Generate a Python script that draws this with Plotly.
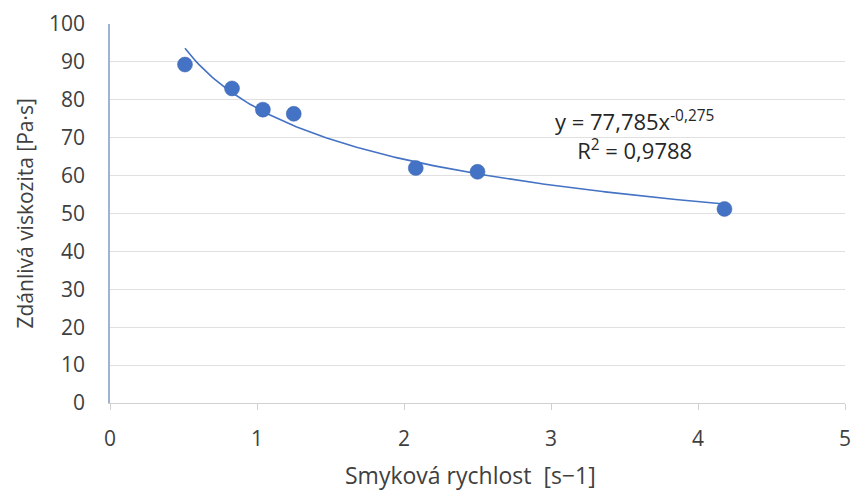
import numpy as np
import plotly.graph_objects as go

shear_rate = [0.51, 0.83, 1.04, 1.25, 2.08, 2.50, 4.18]
viscosity = [89.3, 83.0, 77.4, 76.3, 62.0, 61.0, 51.2]
fit_a = 77.785
fit_b = -0.275
x_ticks = [0, 1, 2, 3, 4, 5]
y_ticks = [0, 10, 20, 30, 40, 50, 60, 70, 80, 90, 100]
x_title = "Smyková rychlost&nbsp; [s−1]"
y_title = "Zdánlivá viskozita [Pa·s]"
eq_text = "y = 77,785x<sup>-0,275</sup><br>R<sup>2</sup> = 0,9788"

xf = np.linspace(min(shear_rate), max(shear_rate), 200)
yf = fit_a * xf ** fit_b

font = "Open Sans, Noto Sans, sans-serif"
txt = "#404040"
fig = go.Figure()
fig.add_trace(go.Scatter(x=xf, y=yf, mode="lines",
                         line=dict(color="#4472C4", width=1.6), hoverinfo="skip"))
fig.add_trace(go.Scatter(x=shear_rate, y=viscosity, mode="markers",
                         marker=dict(color="#4472C4", size=15,
                                     line=dict(color="#3A64B0", width=0.5))))
fig.add_annotation(x=3.565, y=70.6, xref="x", yref="y", showarrow=False,
                   text=eq_text, align="center",
                   font=dict(family=font, size=22, color="#262626"))
fig.add_annotation(x=0, y=0.5, xref="paper", yref="paper", xshift=-86,
                   showarrow=False, textangle=-90, text=y_title,
                   xanchor="center", yanchor="middle",
                   font=dict(family=font, size=21, color=txt))
fig.add_annotation(x=0.49, y=0, xref="paper", yref="paper", yshift=-72,
                   showarrow=False, text=x_title,
                   xanchor="center", yanchor="middle",
                   font=dict(family=font, size=23, color=txt))
fig.update_layout(
    width=854, height=493, showlegend=False,
    paper_bgcolor="white", plot_bgcolor="white",
    margin=dict(l=110, r=9, t=24, b=90),
    font=dict(family=font, size=21, color=txt),
    xaxis=dict(range=[0, 5], tickvals=x_ticks, showgrid=False, zeroline=False,
               showline=True, linecolor="#D0D0D0", linewidth=1.2,
               ticks="outside", ticklen=6, tickcolor="#D0D0D0",
               ticklabelstandoff=11, automargin=False,
               tickfont=dict(size=21, color=txt)),
    yaxis=dict(range=[0, 100], tickvals=y_ticks, showgrid=True,
               gridcolor="#E0E0E0", gridwidth=1.2, zeroline=False,
               showline=True, linecolor="#9DB3CF", linewidth=1.5,
               ticks="", ticklabelstandoff=19, automargin=False,
               tickfont=dict(size=21, color=txt)),
)
fig.write_html("out.html", config={"displayModeBar": False},
               post_script="document.body.style.margin='0';document.body.style.overflow='hidden';")
